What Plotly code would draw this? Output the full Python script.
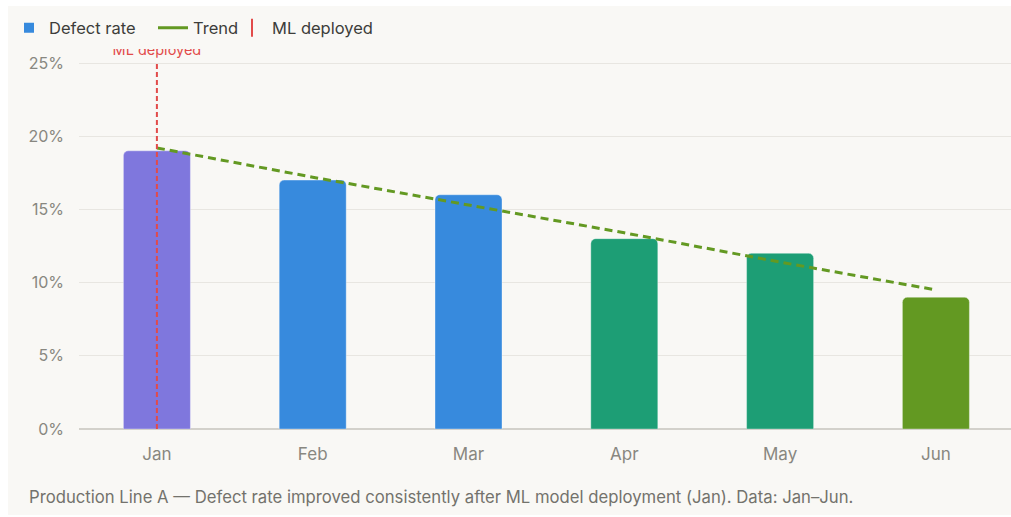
import plotly.graph_objects as go

months = ["Jan", "Feb", "Mar", "Apr", "May", "Jun"]
defect_rate = [19, 17, 16, 13, 12, 9]
trend = [19.2, 17.2, 15.3, 13.4, 11.4, 9.5]
bar_colors = ["#7F77DD", "#378ADD", "#378ADD", "#1D9E75", "#1D9E75", "#639922"]
deploy_month = "Jan"
deploy_label = "ML deployed"
y_ticks = [0, 5, 10, 15, 20, 25]
y_tick_labels = ["0%", "5%", "10%", "15%", "20%", "25%"]
legend_names = ["Defect rate", "Trend", "ML deployed"]
caption = "Production Line A \u2014 Defect rate improved consistently after ML model deployment (Jan). Data: Jan\u2013Jun."

FONT = "Inter, 'DejaVu Sans', sans-serif"
W, H = 1011, 517
ML, MR, MT, MB = 79, 0, 49, 88
PW, PH = W - ML - MR, H - MT - MB

def px_x(p):
    return (p - ML) / PW

def px_y(p):
    return (H - MB - p) / PH

fig = go.Figure()

fig.add_trace(go.Bar(
    x=months, y=defect_rate, width=0.43,
    marker=dict(color=bar_colors, cornerradius=5,
                line=dict(color="rgba(255,255,255,0.35)", width=1)),
    showlegend=False, hoverinfo="x+y",
))

fig.add_trace(go.Scatter(
    x=months, y=trend, mode="lines",
    line=dict(color="#639922", width=3, dash="8px,5px"),
    showlegend=False,
))

fig.add_trace(go.Scatter(
    x=[deploy_month], y=[25.8], mode="text", text=[deploy_label],
    textfont=dict(color="#E24B4A", size=14.5, family=FONT),
    textposition="middle center", cliponaxis=True, showlegend=False, hoverinfo="skip",
))

# legend-only entries, each in its own legend so they can be placed like the original
fig.add_trace(go.Scatter(x=[None], y=[None], mode="markers", name=legend_names[0], legend="legend",
                         marker=dict(symbol="square", size=10, color="#378ADD")))
fig.add_trace(go.Scatter(x=[None], y=[None], mode="lines", name=legend_names[1], legend="legend2",
                         line=dict(color="#639922", width=3)))
fig.add_trace(go.Scatter(x=[None], y=[None], mode="markers", name=legend_names[2], legend="legend3",
                         marker=dict(symbol="line-ns", size=13,
                                     line=dict(color="#E24B4A", width=2))))

fig.add_shape(type="line", xref="x", yref="y", x0=deploy_month, x1=deploy_month,
              y0=0, y1=25, line=dict(color="#E24B4A", width=2, dash="5px,3px"), layer="above")

# beige card background
fig.add_shape(type="rect", xref="paper", yref="paper",
              x0=px_x(8), x1=px_x(1015), y0=px_y(515), y1=px_y(6),
              fillcolor="#F9F8F5", line=dict(width=0), layer="below")

fig.add_annotation(x=px_x(27), y=px_y(497), xref="paper", yref="paper",
                   text=caption, showarrow=False, xanchor="left", yanchor="middle",
                   font=dict(family=FONT, size=16.7, color="#73726C"))

def leg(text_px):
    return dict(orientation="h", x=px_x(text_px - 40), xanchor="left", y=px_y(28), yanchor="middle",
                bgcolor="rgba(0,0,0,0)", borderwidth=0,
                font=dict(size=16.5, color="#3D3D3A", family=FONT), itemclick=False)

fig.update_layout(
    width=W, height=H,
    margin=dict(l=ML, r=MR, t=MT, b=MB, pad=0),
    paper_bgcolor="#FFFFFF", plot_bgcolor="rgba(0,0,0,0)",
    font=dict(family=FONT, color="#888780", size=15),
    showlegend=True,
    legend=leg(49), legend2=leg(193), legend3=leg(272),
    xaxis=dict(range=[-0.5, (PW / 155.8) - 0.5], showgrid=False, showline=False,
               zeroline=False, ticks="", ticklabelstandoff=13,
               tickfont=dict(size=17, color="#888780")),
    yaxis=dict(range=[0, (H - MB - MT) / (366 / 25)], tickvals=y_ticks, ticktext=y_tick_labels,
               showgrid=True, gridcolor="#E8E6E1", gridwidth=1, zeroline=True,
               zerolinecolor="#D3D1CB", zerolinewidth=1.5, showline=False, ticks="",
               ticklabelstandoff=14, tickfont=dict(size=16, color="#888780")),
    hovermode="closest",
)

fig.write_html("out.html")
